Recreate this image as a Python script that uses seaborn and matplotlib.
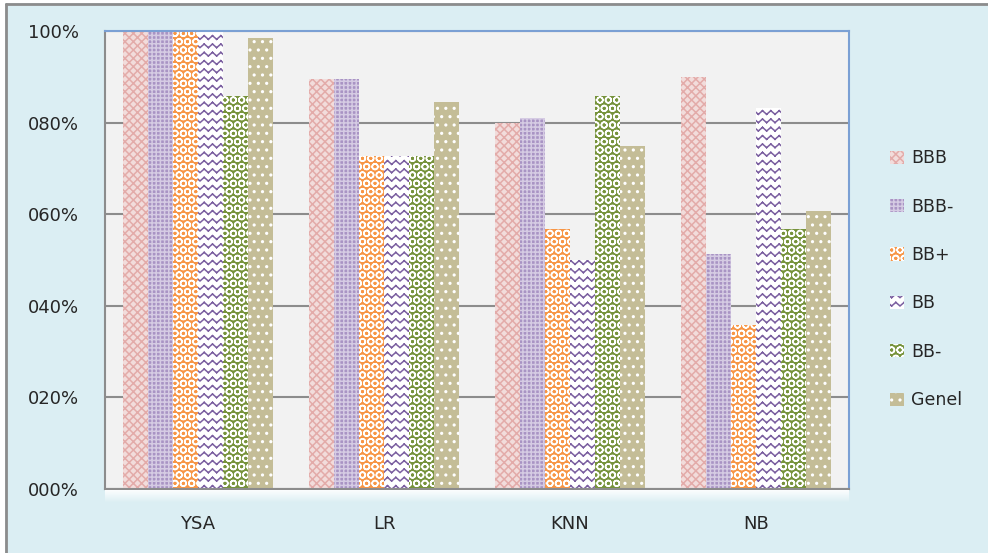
import warnings
import matplotlib
matplotlib.use("Agg")
import matplotlib.pyplot as plt
import seaborn as sns
import pandas as pd
import numpy as np
from matplotlib import hatch as mhatch
from matplotlib.path import Path
from matplotlib.patches import Rectangle
from matplotlib.lines import Line2D

warnings.filterwarnings("ignore")

# Model names and class labels
models = ["YSA", "LR", "KNN", "NB"]
classes = ["BBB", "BBB-", "BB+", "BB", "BB-", "Genel"]

# Accuracy per class for each model (fraction)
acc_bbb = [1.000, 0.895, 0.800, 0.900]
acc_bbb_minus = [1.000, 0.895, 0.809, 0.514]
acc_bb_plus = [1.000, 0.728, 0.568, 0.357]
acc_bb = [1.000, 0.728, 0.500, 0.831]
acc_bb_minus = [0.857, 0.728, 0.857, 0.568]
acc_genel = [0.985, 0.845, 0.748, 0.607]

y_ticks = [0.0, 0.2, 0.4, 0.6, 0.8, 1.0]
y_tick_labels = ["000%", "020%", "040%", "060%", "080%", "100%"]


class ZigZagHatch(mhatch.HatchPatternBase):
    """Wavy hatch: rows of short zigzag segments, selected with 'z'."""

    def __init__(self, hatch, density):
        self.num_rows = int(hatch.count("z") * density)
        self.num_periods = 12
        self.num_vertices = self.num_rows * self.num_periods * 2 * 2

    def set_vertices_and_codes(self, vertices, codes):
        amp = 0.018
        xs = np.linspace(0.0, 1.0, 2 * self.num_periods + 1)
        k = 0
        for r in range(self.num_rows):
            yc = (r + 0.5) / self.num_rows
            ys = yc + np.where(np.arange(xs.size) % 2 == 0, -amp, amp)
            for j in range(xs.size - 1):
                vertices[k] = (xs[j], ys[j])
                vertices[k + 1] = (xs[j + 1], ys[j + 1])
                codes[k] = Path.MOVETO
                codes[k + 1] = Path.LINETO
                k += 2


mhatch._hatch_types.append(ZigZagHatch)

series = [acc_bbb, acc_bbb_minus, acc_bb_plus, acc_bb, acc_bb_minus, acc_genel]
rows = []
for cls, vals in zip(classes, series):
    for m, v in zip(models, vals):
        rows.append({"Model": m, "Sınıf": cls, "Doğruluk": v})
df = pd.DataFrame(rows)

# face colour, hatch colour, hatch pattern for each class
styles = {
    "BBB":   ("#F2DCDB", "#E3ABA9", "xxxx"),
    "BBB-":  ("#A994C4", "#D5CBE3", "++++"),
    "BB+":   ("#F79646", "#FFFFFF", "OO"),
    "BB":    ("#FFFFFF", "#7B5FA0", "zz"),
    "BB-":   ("#77933C", "#FFFFFF", "OO"),
    "Genel": ("#C4BD97", "#FFFFFF", ".."),
}

sns.set_style("white")
plt.rcParams["font.family"] = ["DejaVu Sans"]
plt.rcParams["hatch.linewidth"] = 1.1

fig = plt.figure(figsize=(9.88, 5.53), dpi=100)
fig.patch.set_facecolor("#DBEEF3")
ax = fig.add_axes([105 / 988, 1 - 489 / 553, (849 - 105) / 988, (489 - 31) / 553])

sns.barplot(data=df, x="Model", y="Doğruluk", hue="Sınıf", order=models,
            hue_order=classes, width=0.81, ax=ax, legend=False, saturation=1)

for cls, cont in zip(classes, ax.containers):
    face, hc, hatch = styles[cls]
    for bar in cont:
        bar.set_facecolor(face)
        bar.set_edgecolor(hc)
        bar.set_hatch(hatch)
        bar.set_linewidth(0)

ax.set_facecolor("#F2F2F2")
ax.set_ylim(0, 1.0)
ax.set_xlim(-0.5, 3.5)
ax.set_yticks(y_ticks)
ax.set_yticklabels(y_tick_labels, fontsize=13, color="#262626")
ax.set_xlabel("")
ax.set_ylabel("")
ax.tick_params(axis="x", length=0, pad=19, labelsize=13, labelcolor="#262626")
ax.tick_params(axis="y", length=8, width=1.2, color="#8C8C8C", pad=11)
ax.set_xticks([-0.5, 0.5, 1.5, 2.5, 3.5], minor=True)
ax.tick_params(axis="x", which="minor", length=8, width=1.2, color="#8C8C8C", direction="out")
ax.yaxis.grid(True, color="#8C8C8C", linewidth=1.5)
ax.set_axisbelow(True)

for side in ["left", "bottom"]:
    ax.spines[side].set_color("#8C8C8C")
    ax.spines[side].set_linewidth(1.5)
for side in ["top", "right"]:
    ax.spines[side].set_color("#7BA0D4")
    ax.spines[side].set_linewidth(1.5)
ax.spines["bottom"].set_zorder(5)

# soft white shadow under the plotting area
for i in range(12):
    y0 = 1 - (490 + i) / 553
    fig.add_artist(Rectangle((105 / 988, y0 - 1 / 553), (849 - 105) / 988, 1 / 553,
                             transform=fig.transFigure, facecolor="white",
                             edgecolor="none", alpha=0.9 * (1 - i / 12)))

# legend
handles = []
for cls in classes:
    face, hc, hatch = styles[cls]
    handles.append(Rectangle((0, 0), 1, 1, facecolor=face, edgecolor=hc,
                             hatch=hatch, linewidth=0))
fig.legend(handles, classes, loc="center left", bbox_to_anchor=(0.9008, 0.495),
           frameon=False, fontsize=12.5, handlelength=0.8, handleheight=0.8,
           labelspacing=1.75, handletextpad=0.4, borderpad=0, borderaxespad=0)

# outer chart frame
fig.add_artist(Line2D([6 / 988, 1], [1 - 4 / 553, 1 - 4 / 553],
                      transform=fig.transFigure, color="#8C8C8C", linewidth=2))
fig.add_artist(Line2D([6 / 988, 6 / 988], [0, 1 - 4 / 553],
                      transform=fig.transFigure, color="#8C8C8C", linewidth=2))
fig.add_artist(Rectangle((0, 1 - 3 / 553), 1, 3 / 553, transform=fig.transFigure,
                         facecolor="white", edgecolor="none"))
fig.add_artist(Rectangle((0, 0), 5 / 988, 1, transform=fig.transFigure,
                         facecolor="white", edgecolor="none"))

fig.savefig("out.png", dpi=100, facecolor=fig.get_facecolor())
